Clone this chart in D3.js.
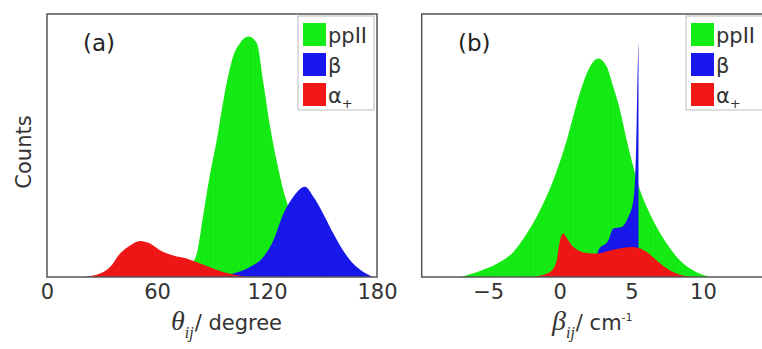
<!DOCTYPE html>
<html>
<head>
<meta charset="utf-8">
<script src="https://cdn.jsdelivr.net/npm/d3@7"></script>
<style>
	body { margin: 0; background: #fff; }
	svg { display: block; }
	.tick text { font-family: 'DejaVu Sans', sans-serif; font-size: 21px; fill: #333; }
</style>
</head>
<body>
<div id="chart"></div>
<script>
// ticks
const thetaTicks = [0, 60, 120, 180];
const betaTicks = [-5, 0, 5, 10];

// legend
const seriesNames = ['ppII', 'β', 'α'];

// panel (a): theta_ij / degree vs counts (arbitrary, 100 = top of frame)
const ppiiTheta = [65, 75, 79, 81.7, 85.3, 88.9, 92.6, 96.2, 101.6, 105.3, 109.8, 114.4, 118, 121.7, 125.3, 128.9, 133, 138, 145, 155, 165, 175];
const ppiiThetaCounts = [0, 1.5, 5, 8.9, 24, 39, 52, 67, 84, 89, 91.4, 89, 74, 57, 44, 33, 24, 16, 9, 4, 1.5, 0];

const betaTheta = [90, 101.6, 110.7, 118, 123.5, 128.9, 134.4, 140.7, 145.3, 150.7, 156.2, 161.6, 167.1, 172.6, 178];
const betaThetaCounts = [0, 1.3, 3.8, 7.6, 14, 24, 30.5, 34.3, 30.5, 24, 16.5, 10, 5, 1.9, 0];

const alphaTheta = [19.8, 28.9, 34.4, 39.8, 45.3, 50.7, 56.2, 61.6, 68.9, 76.2, 83.5, 90.7, 98, 105.3, 112.7];
const alphaThetaCounts = [0, 1.3, 3.8, 8.9, 12, 13.7, 12.7, 10.2, 8.2, 7, 5.1, 3.2, 1.5, 0.5, 0];

// panel (b): beta_ij / cm-1 vs counts
const ppiiBeta = [-6.96, -5.57, -4.4, -3.24, -2.3, -1.38, -0.45, 0.49, 1.19, 1.89, 2.35, 2.7, 3.28, 3.74, 4.21, 4.68, 5.14, 5.61, 6.08, 6.77, 7.47, 8.4, 9.33, 10.5];
const ppiiBetaCounts = [0, 2.3, 5, 9.5, 16.5, 25.4, 36.8, 52, 66, 77.4, 81.9, 83.1, 80, 72.3, 63.5, 52, 41.9, 33, 26.6, 19, 12.7, 6.3, 2.5, 0];

const betaBeta = [2.4, 2.7, 3.4, 3.74, 4.33, 4.79, 5.14, 5.33, 5.45, 5.5, 5.53];
const betaBetaCounts = [0, 10.2, 14, 18.4, 19, 22.8, 29, 48, 80, 88.8, 0];

const alphaBeta = [-1.63, -0.68, -0.21, 0.02, 0.25, 0.44, 0.95, 1.89, 2.58, 3.74, 5.14, 5.61, 6.08, 6.77, 7.7, 8.87, 9.5];
const alphaBetaCounts = [0.3, 1.9, 6.3, 14, 16.5, 15.2, 11.4, 9.1, 8.9, 10.4, 11.4, 10.8, 9.5, 6.3, 2.5, 0.3, 0];

const colors = ['#14ee14', '#1818ee', '#f21616'];

const width = 762, height = 349;
const svg = d3.select('#chart').append('svg')
	.attr('width', width)
	.attr('height', height);

// faint vertical stripes, like the histogram bins
const defs = svg.append('defs');
defs.append('pattern')
	.attr('id', 'bins')
	.attr('patternUnits', 'userSpaceOnUse')
	.attr('width', 2.5).attr('height', 10)
	.append('rect')
	.attr('width', 0.6).attr('height', 10)
	.attr('fill', 'rgba(0,0,0,0.07)');

function drawPanel(cfg) {
	const x = d3.scaleLinear().domain(cfg.domain).range(cfg.range);
	const y = d3.scaleLinear().domain([0, 100]).range([277, 14]);

	const g = svg.append('g');

	const area = d3.area()
		.x(d => x(d[0]))
		.y0(y(0))
		.y1(d => y(d[1]))
		.curve(d3.curveMonotoneX);

	cfg.series.forEach((s, i) => {
		const pts = d3.zip(s.x, s.y);
		g.append('path').datum(pts)
			.attr('d', area)
			.attr('fill', colors[i]);
		g.append('path').datum(pts)
			.attr('d', area)
			.attr('fill', 'url(#bins)');
	});

	// frame
	g.append('rect')
		.attr('x', cfg.range[0]).attr('y', 14)
		.attr('width', cfg.range[1] - cfg.range[0]).attr('height', 263)
		.attr('fill', 'none')
		.attr('stroke', '#555')
		.attr('stroke-width', 1.5);

	// x axis
	const ax = g.append('g')
		.attr('transform', 'translate(0,277)')
		.call(d3.axisBottom(x).tickValues(cfg.ticks).tickSize(0).tickPadding(7));
	ax.select('.domain').remove();

	// panel label
	g.append('text')
		.attr('x', cfg.labelX).attr('y', 51)
		.attr('font-family', 'DejaVu Sans, sans-serif')
		.attr('font-size', 23)
		.attr('fill', '#222')
		.text(cfg.label);

	// legend
	const lg = g.append('g');
	lg.append('rect')
		.attr('x', cfg.legendX).attr('y', 16)
		.attr('width', cfg.legendW).attr('height', 94)
		.attr('fill', '#fff')
		.attr('stroke', '#bbb')
		.attr('stroke-width', 1);
	seriesNames.forEach((name, i) => {
		lg.append('rect')
			.attr('x', cfg.legendX + 5).attr('y', 23 + i * 30)
			.attr('width', 23).attr('height', 23)
			.attr('fill', colors[i]);
		const t = lg.append('text')
			.attr('x', cfg.legendX + 30).attr('y', 43 + i * 30)
			.attr('font-family', 'DejaVu Sans, sans-serif')
			.attr('font-size', 21)
			.attr('fill', '#333')
			.text(name);
		if (i === 2) {
			t.append('tspan').attr('dy', 5).attr('font-size', 13).text('+');
		}
	});

	// x axis title
	const xt = g.append('text')
		.attr('x', cfg.titleX).attr('y', 330)
		.attr('font-family', 'DejaVu Sans, sans-serif')
		.attr('font-size', 21)
		.attr('fill', '#333');
	xt.append('tspan')
		.attr('font-family', 'Liberation Serif, serif')
		.attr('font-style', 'italic')
		.attr('font-size', 28)
		.text(cfg.symbol);
	xt.append('tspan')
		.attr('font-family', 'Liberation Serif, serif')
		.attr('font-style', 'italic')
		.attr('font-size', 16)
		.attr('dy', 8)
		.text('ij');
	xt.append('tspan')
		.attr('dx', 1).attr('dy', -8)
		.text('/ ' + cfg.unit);
	if (cfg.sup) {
		xt.append('tspan')
			.attr('font-size', 11).attr('dy', -9)
			.text(cfg.sup);
	}
}

drawPanel({
	domain: [0, 180], range: [47, 377], ticks: thetaTicks,
	label: '(a)', labelX: 83,
	legendX: 298, legendW: 76,
	titleX: 171, symbol: 'θ', unit: 'degree',
	series: [
		{ x: ppiiTheta, y: ppiiThetaCounts },
		{ x: betaTheta, y: betaThetaCounts },
		{ x: alphaTheta, y: alphaThetaCounts }
	]
});

drawPanel({
	domain: [-9.64, 15], range: [421.7, 774.5], ticks: betaTicks,
	label: '(b)', labelX: 458,
	legendX: 686, legendW: 90,
	titleX: 552, symbol: 'β', unit: 'cm', sup: '-1',
	series: [
		{ x: ppiiBeta, y: ppiiBetaCounts },
		{ x: betaBeta, y: betaBetaCounts },
		{ x: alphaBeta, y: alphaBetaCounts }
	]
});

// y axis title
svg.append('text')
	.attr('transform', 'translate(31,152) rotate(-90)')
	.attr('text-anchor', 'middle')
	.attr('font-family', 'DejaVu Sans, sans-serif')
	.attr('font-size', 21)
	.attr('fill', '#333')
	.text('Counts');
</script>
</body>
</html>
